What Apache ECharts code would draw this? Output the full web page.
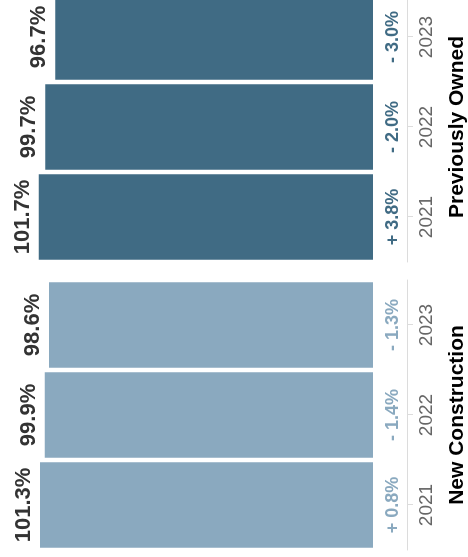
<!DOCTYPE html>
<html>
<head>
<meta charset="utf-8">
<script src="https://cdn.jsdelivr.net/npm/echarts@6/dist/echarts.min.js"></script>
<style>
  html, body { margin: 0; padding: 0; background: #ffffff; overflow: hidden; }
  #wrap { position: absolute; left: 0; top: 0; width: 468px; height: 557px; overflow: hidden; }
  /* the chart is laid out as a column chart and turned a quarter turn counter-clockwise */
  #chart {
    position: absolute; left: 0; top: 0;
    width: 557px; height: 468px;
    transform-origin: 0 0;
    transform: translateY(557px) rotate(-90deg);
  }
</style>
</head>
<body>
<div id="wrap"><div id="chart"></div></div>
<script>
// Sale-to-list price ratio by year, with year-over-year change
const years = ['2021', '2022', '2023'];
const groups = ['New Construction', 'Previously Owned'];
const newConstruction = [101.3, 99.9, 98.6];
const previouslyOwned = [101.7, 99.7, 96.7];
const newChange = [0.8, -1.4, -1.3];
const ownedChange = [3.8, -2.0, -3.0];

const lightBlue = '#8aa9bf';
const darkBlue = '#406b84';
const fontFamily = '"Liberation Sans", Arial, Helvetica, sans-serif';

function fmtChange(v) {
  return (v >= 0 ? '+ ' : '- ') + Math.abs(v).toFixed(1) + '%';
}

function yearAxis(gridIndex, groupName) {
  return {
    type: 'category', gridIndex: gridIndex, data: years, position: 'bottom',
    offset: 34,
    axisLine: { show: true, onZero: false, lineStyle: { color: '#dcdcdc', width: 1 } },
    axisTick: { show: true, alignWithLabel: true, length: 6, lineStyle: { color: '#dcdcdc' } },
    axisLabel: { interval: 0, margin: 10, color: '#666666', fontSize: 19, fontFamily: fontFamily },
    name: groupName, nameLocation: 'middle', nameGap: 40,
    nameTextStyle: { color: '#000000', fontSize: 21, fontWeight: 'bold', fontFamily: fontFamily }
  };
}

function changeAxis(gridIndex, changes, color) {
  return {
    type: 'category', gridIndex: gridIndex, data: changes.map(fmtChange), position: 'bottom',
    offset: 0,
    axisLine: { show: false, onZero: false },
    axisTick: { show: false },
    axisLabel: { interval: 0, margin: 11, color: color, fontSize: 18, fontWeight: 'bold', fontFamily: fontFamily }
  };
}

function valueAxis(gridIndex) {
  return {
    type: 'value', gridIndex: gridIndex, min: 0, max: 113.5,
    show: false, splitLine: { show: false }
  };
}

function barSeries(name, data, xIdx, yIdx, color) {
  return {
    name: name, type: 'bar', data: data,
    xAxisIndex: xIdx, yAxisIndex: yIdx,
    barCategoryGap: '5%',
    itemStyle: { color: color },
    label: {
      show: true, position: 'top', distance: 5,
      formatter: p => p.value.toFixed(1) + '%',
      color: '#333333', fontSize: 22, fontWeight: 'bold',
      fontFamily: fontFamily
    }
  };
}

const chart = echarts.init(document.getElementById('chart'), null, { renderer: 'canvas' });
chart.setOption({
  animation: false,
  backgroundColor: '#ffffff',
  grid: [
    { left: 7, width: 270, top: 0, bottom: 95, containLabel: false, outerBoundsMode: 'none' },
    { left: 295, width: 270, top: 0, bottom: 95, containLabel: false, outerBoundsMode: 'none' }
  ],
  xAxis: [
    yearAxis(0, groups[0]),
    changeAxis(0, newChange, lightBlue),
    yearAxis(1, groups[1]),
    changeAxis(1, ownedChange, darkBlue)
  ],
  yAxis: [valueAxis(0), valueAxis(1)],
  series: [
    barSeries(groups[0], newConstruction, 0, 0, lightBlue),
    barSeries(groups[1], previouslyOwned, 2, 1, darkBlue)
  ]
});
</script>
</body>
</html>
